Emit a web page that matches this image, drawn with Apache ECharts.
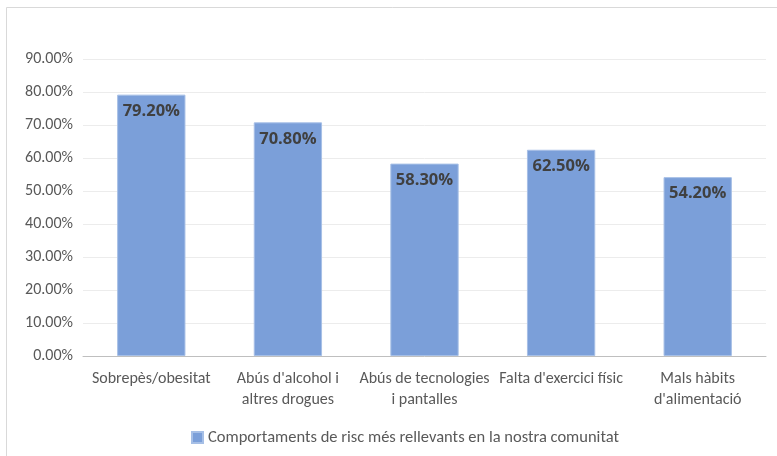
<!DOCTYPE html>
<html>
<head>
<meta charset="utf-8">
<script src="https://cdn.jsdelivr.net/npm/echarts@6/dist/echarts.min.js"></script>
<style>
html,body{margin:0;padding:0;background:#fff;}
#c{width:777px;height:456px;}
</style>
</head>
<body>
<div id="c"></div>
<script>
const categories = ["Sobrepès/obesitat", "Abús d'alcohol i\naltres drogues", "Abús de tecnologies\ni pantalles", "Falta d'exercici físic", "Mals hàbits\nd'alimentació"];
const seriesName = "Comportaments de risc més rellevants en la nostra comunitat";
const values = [79.2, 70.8, 58.3, 62.5, 54.2];
const yTicks = [0, 10, 20, 30, 40, 50, 60, 70, 80, 90];

const font = "Carlito, 'Liberation Sans Narrow', 'Open Sans', sans-serif";
const chart = echarts.init(document.getElementById('c'), null, {renderer: 'canvas'});
chart.setOption({
  animation: false,
  backgroundColor: '#ffffff',
  graphic: [{
    type: 'rect', silent: true, z: -1,
    shape: {x: 6.5, y: 7.5, width: 790, height: 470},
    style: {fill: 'none', stroke: '#d9d9d9', lineWidth: 1}
  }],
  grid: {left: 83, right: 11, top: 59, bottom: 100, containLabel: false},
  legend: {
    top: 424, left: 186,
    itemWidth: 11, itemHeight: 11, itemGap: 5,
    icon: 'rect',
    textStyle: {color: '#595959', fontSize: 16.5, fontFamily: font},
    data: [seriesName]
  },
  xAxis: {
    type: 'category', data: categories,
    axisLine: {lineStyle: {color: '#bfbfbf', width: 1}},
    axisTick: {show: false},
    axisLabel: {color: '#595959', fontSize: 16, fontFamily: font, interval: 0, margin: 12, lineHeight: 21}
  },
  yAxis: {
    type: 'value', min: 0, max: 90, interval: 10,
    axisLine: {show: false}, axisTick: {show: false},
    splitLine: {lineStyle: {color: '#ececec', width: 1}},
    axisLabel: {color: '#595959', fontSize: 16, fontFamily: font, margin: 10,
      formatter: v => v.toFixed(2) + '%'}
  },
  series: [{
    name: seriesName, type: 'bar', data: values, barWidth: '50%',
    itemStyle: {color: '#7b9fd9', borderColor: '#a6bfe6', borderWidth: 1},
    label: {
      show: true, position: 'insideTop', distance: 8,
      color: '#404040', fontSize: 16.5, fontWeight: 'bold', fontFamily: "'Open Sans', sans-serif",
      formatter: p => p.value.toFixed(2) + '%'
    }
  }]
});
</script>
</body>
</html>
